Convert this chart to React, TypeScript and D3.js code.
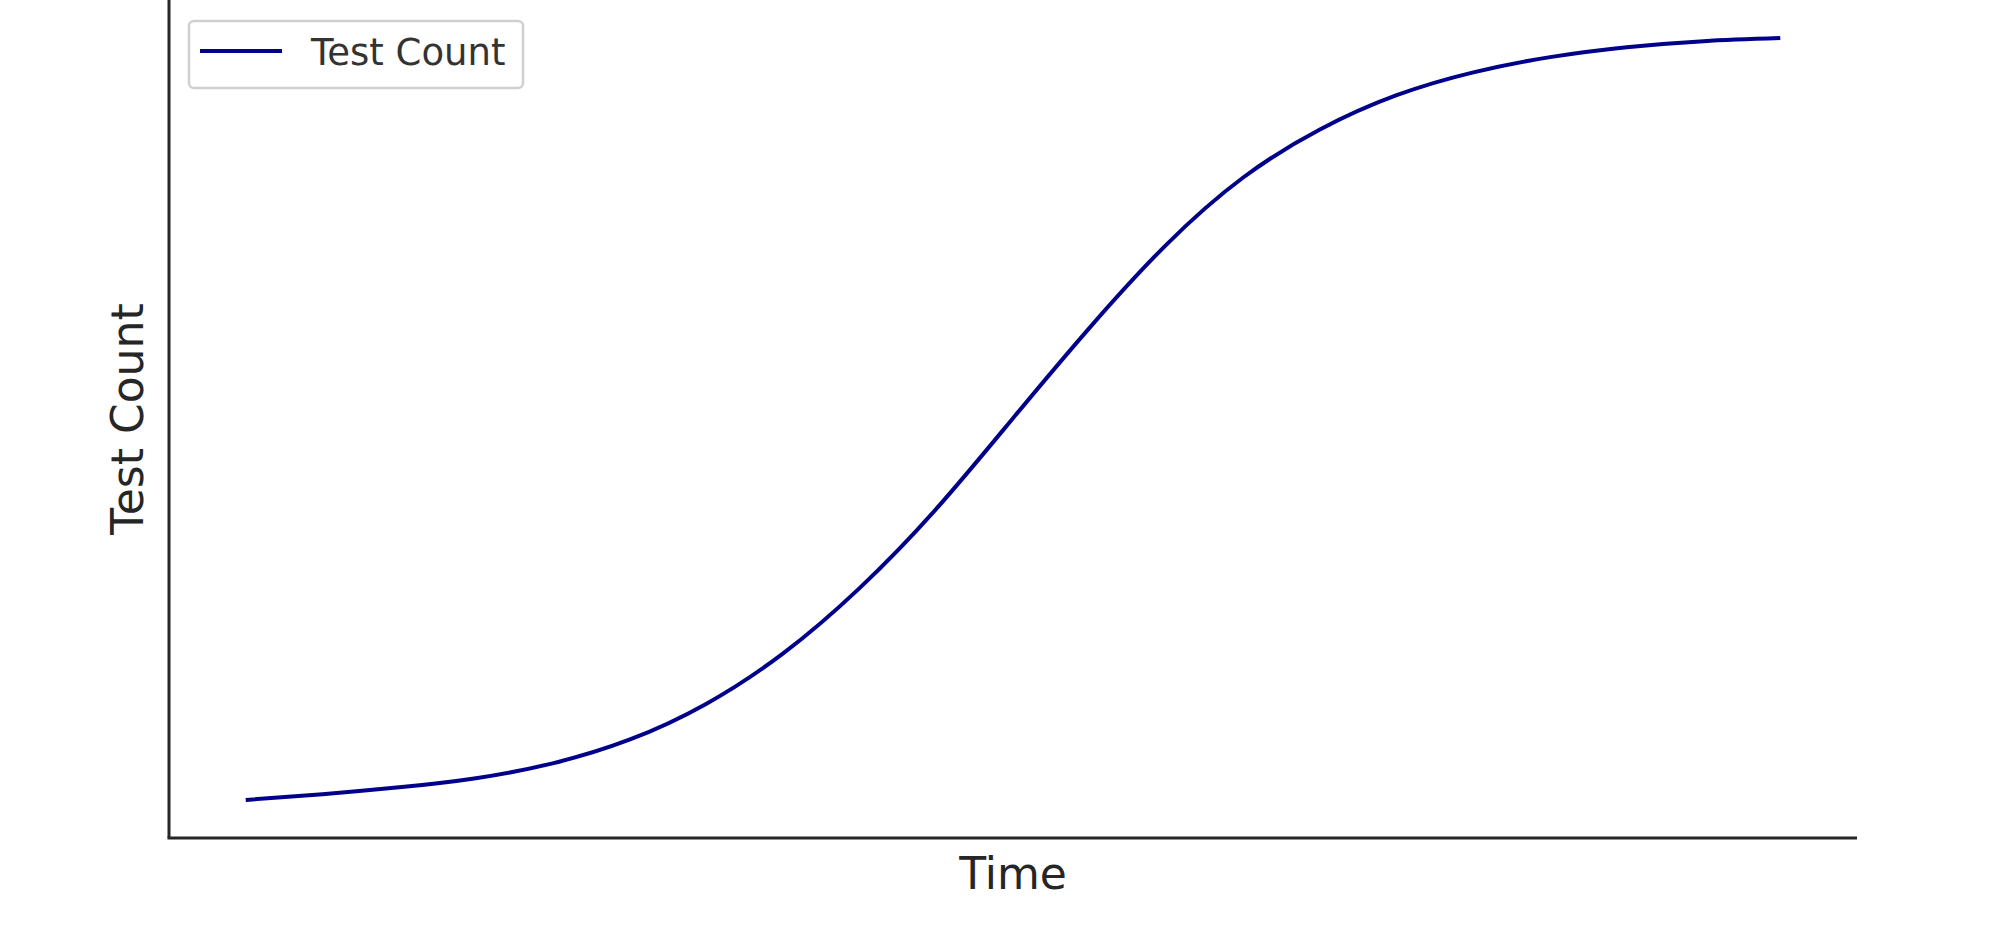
import React from "react";
import * as d3 from "d3";

const timePoints = [0, 0.5, 1, 1.5, 2, 2.5, 3, 3.5, 4, 4.5, 5, 5.5, 6, 6.5, 7, 7.5, 8, 8.5, 9, 9.5, 10];
const testCounts = [0, 7.5, 16.5, 28.5, 48, 79, 126, 192, 278, 382, 501, 620, 729, 817, 880, 925, 955, 975, 988, 996, 1000];
const seriesName = "Test Count";
const xLabel = "Time";
const yLabel = "Test Count";

const W = 2000;
const H = 937;
const left = 169;
const right = 1857;
const top = 0;
const bottom = 838;

export default function App() {
  const xMin = d3.min(timePoints)!;
  const xMax = d3.max(timePoints)!;
  const yMin = d3.min(testCounts)!;
  const yMax = d3.max(testCounts)!;
  const xPad = (xMax - xMin) * 0.05;
  const yPad = (yMax - yMin) * 0.05;
  const x = d3.scaleLinear().domain([xMin - xPad, xMax + xPad]).range([left, right]);
  const y = d3.scaleLinear().domain([yMin - yPad, yMax + yPad]).range([bottom, top]);
  const data = timePoints.map((t, i) => [t, testCounts[i]] as [number, number]);
  const line = d3
    .line<[number, number]>()
    .x((d) => x(d[0]))
    .y((d) => y(d[1]))
    .curve(d3.curveNatural);

  const font = "'DejaVu Sans', sans-serif";
  return (
    <svg
      width={W}
      height={H}
      style={{ position: "absolute", left: 0, top: 0, background: "#fff" }}
      fontFamily={font}
    >
      <rect x={0} y={0} width={W} height={H} fill="#fff" />
      <path d={line(data) || ""} fill="none" stroke="#00008B" strokeWidth={4} strokeLinejoin="round" />
      {/* spines */}
      <line x1={left} y1={top} x2={left} y2={bottom} stroke="#262626" strokeWidth={3} />
      <line x1={left - 1.5} y1={bottom} x2={right} y2={bottom} stroke="#262626" strokeWidth={3} />
      {/* axis labels */}
      <text x={(left + right) / 2} y={889} textAnchor="middle" fontSize={44} fill="#262626">
        {xLabel}
      </text>
      <text
        transform={`translate(143, ${(top + bottom) / 2}) rotate(-90)`}
        textAnchor="middle"
        fontSize={44}
        fill="#262626"
      >
        {yLabel}
      </text>
      {/* legend */}
      <g>
        <rect x={189} y={21} width={334} height={67} rx={5} ry={5} fill="#fff" fillOpacity={0.8} stroke="#d0d0d0" strokeWidth={2.5} />
        <line x1={200} y1={51} x2={282} y2={51} stroke="#00008B" strokeWidth={4} />
        <text x={311} y={65} fontSize={37} fill="#333333">
          {seriesName}
        </text>
      </g>
    </svg>
  );
}
